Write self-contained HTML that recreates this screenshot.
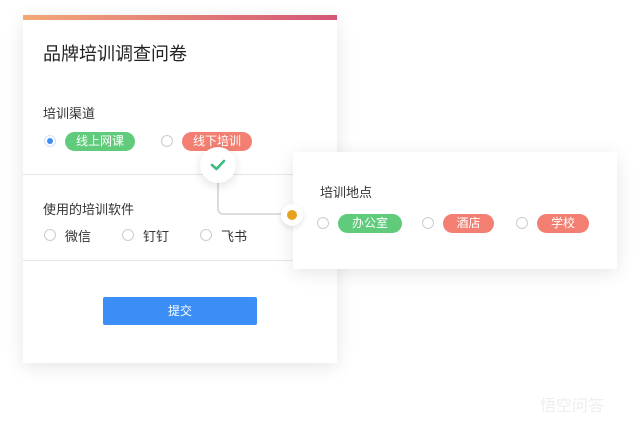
<!DOCTYPE html>
<html><head><meta charset="utf-8"><style>
*{margin:0;padding:0;box-sizing:border-box}
body{width:640px;height:423px;background:#fff;position:relative;overflow:hidden;font-family:"Liberation Sans","Noto Sans CJK SC",sans-serif;color:#333}
.a{position:absolute}
.card{background:#fff;box-shadow:0 4px 18px rgba(0,0,0,0.10)}
.r{position:absolute;width:12px;height:12px;border:1px solid #ccc;border-radius:50%;background:#fff}
.pill{position:absolute;height:19px;border-radius:10px;color:#fff;font-size:12px;line-height:19px;text-align:center}
.g{background:#5fcb7b}.s{background:#f27f72}
.t{position:absolute;font-size:13px;color:#333;white-space:nowrap}
.hr{position:absolute;left:0;width:314px;height:1px;background:#e6e6e6}
</style></head><body>
<div class="a card" style="left:23px;top:15px;width:314px;height:348px">
 <div class="a" style="left:0;top:0;width:314px;height:5px;background:linear-gradient(90deg,#f2a877,#d35676)"></div>
 <div class="t" style="left:20px;top:25px;font-size:18px;color:#222">品牌培训调查问卷</div>
 <div class="t" style="left:20px;top:88px">培训渠道</div>
 <div class="r" style="left:21px;top:120px;border-color:#cfe0f7"><div class="a" style="left:2px;top:2px;width:6px;height:6px;border-radius:50%;background:#3a8ef6"></div></div>
 <div class="pill g" style="left:42px;top:117px;width:70px">线上网课</div>
 <div class="r" style="left:138px;top:120px"></div>
 <div class="pill s" style="left:159px;top:117px;width:70px">线下培训</div>
 <div class="hr" style="top:159px"></div>
 <div class="t" style="left:20px;top:184px">使用的培训软件</div>
 <div class="r" style="left:21px;top:214px"></div><div class="t" style="left:42px;top:211px">微信</div>
 <div class="r" style="left:99px;top:214px"></div><div class="t" style="left:120px;top:211px">钉钉</div>
 <div class="r" style="left:177px;top:214px"></div><div class="t" style="left:198px;top:211px">飞书</div>
 <div class="hr" style="top:245px"></div>
 <div class="a" style="left:80px;top:282px;width:154px;height:28px;background:#3a8ef6;border-radius:2px;color:#fff;font-size:12px;line-height:28px;text-align:center">提交</div>
</div>
<div class="a" style="left:217px;top:180px;width:76px;height:35px;border-left:2px solid #ddd;border-bottom:2px solid #ddd;border-bottom-left-radius:6px"></div>
<div class="a" style="left:200px;top:147px;width:36px;height:36px;border-radius:50%;background:#fff;box-shadow:0 3px 10px rgba(0,0,0,0.12)">
 <svg width="36" height="36"><path d="M12 18 L16.5 22 L24 14" stroke="#3dbb80" stroke-width="2.6" fill="none" stroke-linecap="round" stroke-linejoin="round"/></svg>
</div>
<div class="a card" style="left:293px;top:152px;width:324px;height:117px">
 <div class="t" style="left:27px;top:30px">培训地点</div>
 <div class="r" style="left:24px;top:65px"></div>
 <div class="pill g" style="left:45px;top:62px;width:64px">办公室</div>
 <div class="r" style="left:129px;top:65px"></div>
 <div class="pill s" style="left:150px;top:62px;width:51px">酒店</div>
 <div class="r" style="left:223px;top:65px"></div>
 <div class="pill s" style="left:244px;top:62px;width:52px">学校</div>
</div>
<div class="a" style="left:281px;top:204px;width:22px;height:22px;border-radius:50%;background:#fff;box-shadow:0 2px 6px rgba(0,0,0,0.12)"><div class="a" style="left:6px;top:6px;width:10px;height:10px;border-radius:50%;background:#e6a21e"></div></div>
<div class="t" style="left:540px;top:392px;font-size:16px;color:#eee">悟空问答</div>
</body></html>
